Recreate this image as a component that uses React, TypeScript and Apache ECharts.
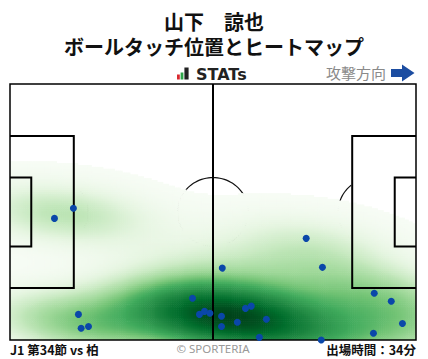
import React, { useEffect, useRef } from "react";
import * as echarts from "echarts";

// ---- data ----
const titleLines = ["山下　諒也", "ボールタッチ位置とヒートマップ"];
const footerLeft = "J1 第34節 vs 柏";
const footerRight = "出場時間：34分";
const creditText = "© SPORTERIA";
const directionLabel = "攻撃方向";
const brandText = "STATs";

// pitch in metres (x: 0..105 attacking to the right, y: 0..68 from bottom)
const PITCH_LENGTH = 105;
const PITCH_WIDTH = 68;

// ball touches (metres)
const touchX = [11.5, 16.4, 17.7, 18.4, 20.3, 47.2, 49.0, 50.3, 51.7, 54.7, 54.7, 58.8, 60.9, 62.4, 66.3, 64.5, 54.9, 76.6, 80.8, 94.2, 98.6, 101.5, 94.0, 80.5];
const touchY = [32.3, 35.0, 6.8, 3.1, 3.6, 11.1, 6.8, 7.6, 7.1, 6.3, 3.6, 4.7, 8.4, 9.0, 5.5, 0.7, 19.1, 27.0, 19.3, 12.4, 10.3, 4.4, 1.8, 0.0];

const greens = ["#f7fcf5", "#e5f5e0", "#c7e9c0", "#a1d99b", "#74c476", "#41ab5d", "#238b45", "#006d2c", "#00441b"];
const KDE_THRESH = 0.01;
const CELL = 0.5;

// ---- kernel density (Gaussian, Scott's rule, full covariance) ----
function buildHeat() {
  const n = touchX.length;
  const mx = touchX.reduce((a, b) => a + b, 0) / n;
  const my = touchY.reduce((a, b) => a + b, 0) / n;
  let sxx = 0, syy = 0, sxy = 0;
  for (let i = 0; i < n; i++) {
    const dx = touchX[i] - mx, dy = touchY[i] - my;
    sxx += dx * dx; syy += dy * dy; sxy += dx * dy;
  }
  sxx /= n - 1; syy /= n - 1; sxy /= n - 1;
  const f2 = Math.pow(n, -1 / 3);
  const a = sxx * f2, b = sxy * f2, c = syy * f2;
  const det = a * c - b * b;
  const ixx = c / det, ixy = -b / det, iyy = a / det;
  const dens = (x: number, y: number) => {
    let s = 0;
    for (let i = 0; i < n; i++) {
      const dx = x - touchX[i], dy = y - touchY[i];
      s += Math.exp(-0.5 * (dx * dx * ixx + 2 * dx * dy * ixy + dy * dy * iyy));
    }
    return s;
  };
  // iso-proportion levels from a wide grid
  const vals: number[] = [];
  for (let x = -45; x <= 150; x += 1) for (let y = -40; y <= 108; y += 1) vals.push(dens(x, y));
  vals.sort((p, q) => p - q);
  const cum: number[] = new Array(vals.length);
  let acc = 0;
  for (let i = 0; i < vals.length; i++) { acc += vals[i]; cum[i] = acc; }
  const total = acc;
  const frac = (d: number) => {
    let lo = 0, hi = vals.length - 1, ans = -1;
    while (lo <= hi) {
      const mid = (lo + hi) >> 1;
      if (vals[mid] <= d) { ans = mid; lo = mid + 1; } else hi = mid - 1;
    }
    return ans < 0 ? 0 : cum[ans] / total;
  };
  const cells: number[][] = [];
  for (let x = CELL / 2; x < PITCH_LENGTH; x += CELL) {
    for (let y = CELL / 2; y < PITCH_WIDTH; y += CELL) {
      const p = frac(dens(x, y));
      if (p >= KDE_THRESH) cells.push([x, y, p]);
    }
  }
  return cells;
}

export default function App() {
  const ref = useRef<HTMLDivElement>(null);
  useEffect(() => {
    if (!ref.current) return;
    const chart = echarts.init(ref.current, null, { renderer: "svg" });
    const heat = buildHeat();
    const half = CELL / 2;
    const L = PITCH_LENGTH, W = PITCH_WIDTH, cy = W / 2;

    const pts = (api: any, arr: number[][]) => arr.map((p) => api.coord(p));
    const titleStyle = { fontFamily: "Noto Sans CJK JP", fontWeight: "bold", fontSize: 20, fill: "#111" };

    const option: any = {
      animation: false,
      grid: { left: 10, top: 84, right: 12, bottom: 19, show: false },
      xAxis: { type: "value", min: 0, max: L, show: false },
      yAxis: { type: "value", min: 0, max: W, show: false },
      visualMap: {
        show: false,
        type: "continuous",
        seriesIndex: 1,
        dimension: 2,
        min: KDE_THRESH,
        max: 1,
        inRange: { color: greens },
      },
      series: [
        {
          // arcs (under heat)
          type: "custom",
          silent: true,
          z: 1,
          data: [[0, 0]],
          renderItem: (_p: any, api: any) => {
            const circ: number[][] = [];
            for (let i = 0; i <= 96; i++) {
              const t = (i / 96) * Math.PI * 2;
              circ.push([L / 2 + 9.15 * Math.cos(t), cy + 9.15 * Math.sin(t)]);
            }
            const arcL: number[][] = [];
            const arcR: number[][] = [];
            for (let i = 0; i <= 60; i++) {
              const t = -Math.PI / 2 + (i / 60) * Math.PI;
              const x = 11 + 9.15 * Math.cos(t);
              const y = cy + 9.15 * Math.sin(t);
              if (x >= 16.5) { arcL.push([x, y]); arcR.push([L - x, y]); }
            }
            const st = { stroke: "#111", lineWidth: 1.2, fill: "none" };
            return {
              type: "group",
              children: [
                { type: "polyline", shape: { points: pts(api, circ) }, style: st },
                { type: "polyline", shape: { points: pts(api, arcL) }, style: st },
                { type: "polyline", shape: { points: pts(api, arcR) }, style: st },
              ],
            };
          },
        },
        {
          type: "custom",
          silent: true,
          z: 2,
          progressive: 0,
          clip: true,
          data: heat,
          encode: { x: 0, y: 1 },
          renderItem: (_p: any, api: any) => {
            const x = api.value(0), y = api.value(1);
            const p0 = api.coord([x - half, y + half]);
            const p1 = api.coord([x + half, y - half]);
            return {
              type: "rect",
              shape: { x: p0[0], y: p0[1], width: p1[0] - p0[0] + 0.6, height: p1[1] - p0[1] + 0.6 },
              style: { fill: api.visual("color") },
            };
          },
        },
        {
          // straight pitch lines (over heat)
          type: "custom",
          silent: true,
          z: 3,
          data: [[0, 0]],
          renderItem: (_p: any, api: any) => {
            const pa = 20.16, ga = 9.16;
            const st = { stroke: "#000", lineWidth: 2, fill: "none" };
            return {
              type: "group",
              children: [
                { type: "polygon", shape: { points: pts(api, [[0, 0], [L, 0], [L, W], [0, W]]) }, style: { stroke: "#000", lineWidth: 1.5, fill: "none" } },
                { type: "polyline", shape: { points: pts(api, [[L / 2, 0], [L / 2, W]]) }, style: st },
                { type: "polyline", shape: { points: pts(api, [[0, cy - pa], [16.5, cy - pa], [16.5, cy + pa], [0, cy + pa]]) }, style: st },
                { type: "polyline", shape: { points: pts(api, [[0, cy - ga], [5.5, cy - ga], [5.5, cy + ga], [0, cy + ga]]) }, style: st },
                { type: "polyline", shape: { points: pts(api, [[L, cy - pa], [L - 16.5, cy - pa], [L - 16.5, cy + pa], [L, cy + pa]]) }, style: st },
                { type: "polyline", shape: { points: pts(api, [[L, cy - ga], [L - 5.5, cy - ga], [L - 5.5, cy + ga], [L, cy + ga]]) }, style: st },
              ],
            };
          },
        },
        {
          type: "scatter",
          z: 4,
          silent: true,
          clip: false,
          symbolSize: 7,
          itemStyle: { color: "#0a47a9", opacity: 1 },
          data: touchX.map((x, i) => [x, touchY[i]]),
        },
      ],
      graphic: [
        { type: "text", x: 214, y: 21, style: { ...titleStyle, text: titleLines[0], align: "center", verticalAlign: "middle" } },
        { type: "text", x: 214, y: 46, style: { ...titleStyle, text: titleLines[1], align: "center", verticalAlign: "middle" } },
        { type: "rect", x: 177, y: 74.5, shape: { width: 2.8, height: 5 }, style: { fill: "#d9272e" } },
        { type: "rect", x: 180.6, y: 72.5, shape: { width: 2.8, height: 7 }, style: { fill: "#2ea64a" } },
        { type: "rect", x: 184.4, y: 67.5, shape: { width: 4.2, height: 12 }, style: { fill: "#222" } },
        {
          type: "text", x: 196, y: 74,
          style: { text: brandText, fontFamily: "DejaVu Sans", fontWeight: "bold", fontSize: 16, fill: "#222", verticalAlign: "middle" },
        },
        {
          type: "text", x: 326, y: 72.5,
          style: { text: directionLabel, fontFamily: "Noto Sans CJK JP", fontSize: 15, fill: "#8a8a8a", verticalAlign: "middle" },
        },
        {
          type: "polygon",
          shape: { points: [[391, 69], [402, 69], [402, 64.5], [414.5, 73], [402, 81.5], [402, 77], [391, 77]] },
          style: { fill: "#1c4da1" },
        },
        {
          type: "text", x: 10, y: 349,
          style: { text: footerLeft, fontFamily: "Noto Sans CJK JP", fontWeight: "bold", fontSize: 12.5, fill: "#111", verticalAlign: "middle" },
        },
        {
          type: "text", x: 213, y: 348,
          style: { text: creditText, fontFamily: "Noto Sans", fontSize: 11.5, fill: "#999", align: "center", verticalAlign: "middle" },
        },
        {
          type: "text", x: 416, y: 349,
          style: { text: footerRight, fontFamily: "Noto Sans CJK JP", fontWeight: "bold", fontSize: 12.5, fill: "#111", align: "right", verticalAlign: "middle" },
        },
      ],
    };
    chart.setOption(option);
    return () => chart.dispose();
  }, []);
  return <div ref={ref} style={{ position: "absolute", left: 0, top: 0, width: 428, height: 359, background: "#fff" }} />;
}
